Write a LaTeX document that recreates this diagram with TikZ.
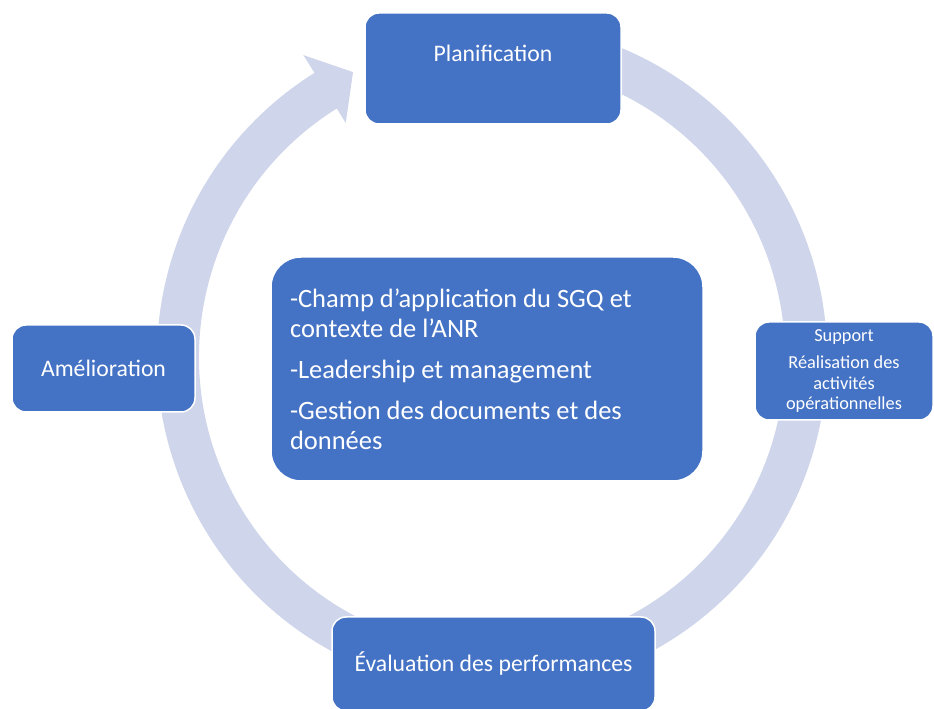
\documentclass[tikz,border=0pt]{standalone}
\usepackage{fontspec}
\setmainfont{Carlito}

\definecolor{phaseblue}{HTML}{4472C4}
\definecolor{ringblue}{HTML}{CFD5EA}

\tikzset{
  phase/.style={rectangle, rounded corners=14pt, fill=phaseblue, draw=white,
    line width=1.5pt, text=white, align=center,
    font=\fontsize{23.7}{28}\selectfont},
  phasetext/.style={text=white, font=\fontsize{23.7}{28}\selectfont},
}

\begin{document}
\begin{tikzpicture}[x=1pt,y=1pt]
\useasboundingbox (0,0) rectangle (934,709);

% cycle arrow, running clockwise behind the phases
\begin{scope}[shift={(492,352)}]
\fill[ringblue] (75:335) arc[start angle=75, end angle=-238, radius=335]
  -- (-238:356) -- (-244:317) -- (-238:276) -- (-238:293)
  arc[start angle=-238, end angle=75, radius=293] -- cycle;
\end{scope}

% phases
\node[phase, minimum width=256, minimum height=111,
  label={[phasetext, yshift=15]center:Planification}] (planif) at (493,640.5) {};
\node[phase, minimum width=183, minimum height=87] (amelio) at (103.5,340.5) {Amélioration};
\node[phase, minimum width=178, minimum height=98,
  font=\fontsize{18.3}{20.5}\selectfont] (support) at (844,338)
  {Support\\[7pt]Réalisation des\\activités\\opérationnelles};
\node[phase, minimum width=323, minimum height=94] (evalperf) at (493.5,45)
  {Évaluation des performances};

% centre block
\node[phase, rounded corners=30pt, minimum height=224, inner xsep=19pt,
  text width=394, align=flush left, font=\fontsize{26.5}{30}\selectfont] (sgq) at (487,340)
  {-Champ d’application du SGQ et\\contexte de l’ANR\\[11pt]-Leadership et management\\[11pt]-Gestion des documents et des\\données};
\end{tikzpicture}
\end{document}
